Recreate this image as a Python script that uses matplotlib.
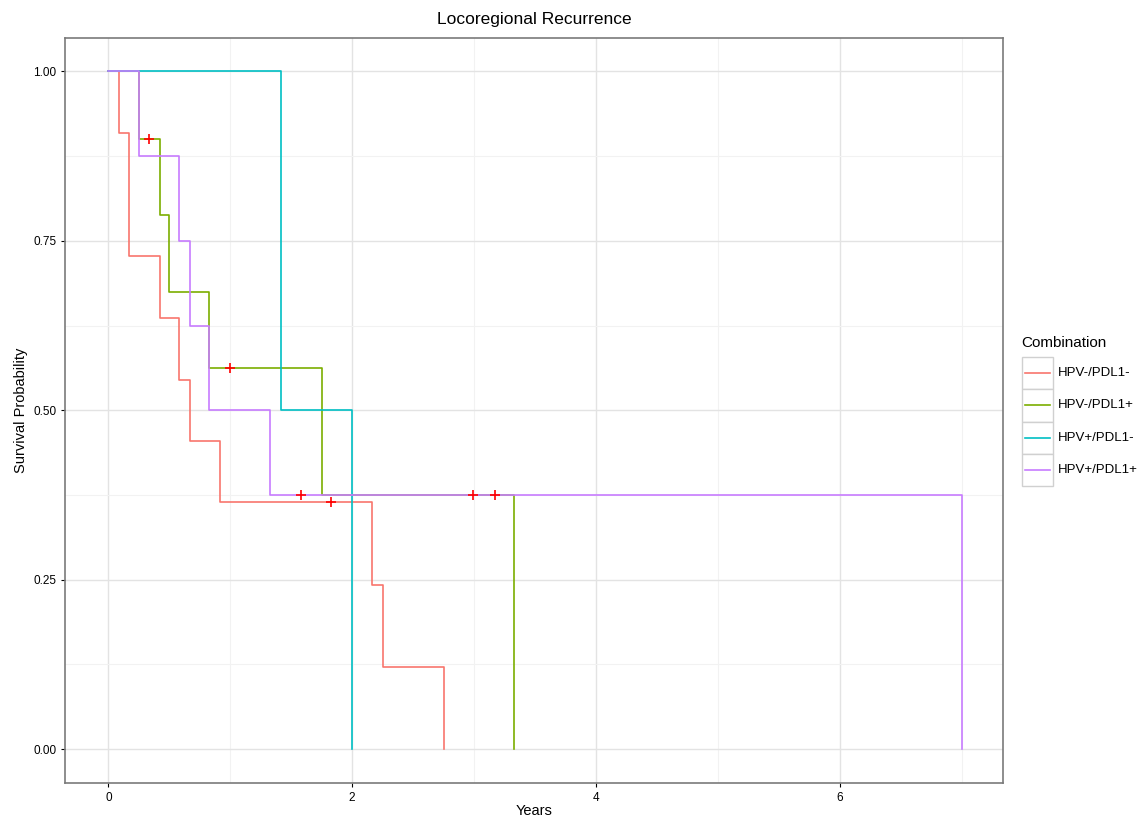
import matplotlib
matplotlib.use("Agg")
import matplotlib.pyplot as plt
from matplotlib.patches import Rectangle
from matplotlib.lines import Line2D

plt.rcParams['font.family'] = ['Liberation Sans', 'DejaVu Sans']

# Kaplan-Meier step data
groups = ["HPV-/PDL1-", "HPV-/PDL1+", "HPV+/PDL1-", "HPV+/PDL1+"]
colors = ["#F8766D", "#7CAE00", "#00BFC4", "#C77CFF"]

red_t = [0, 0.09, 0.17, 0.42, 0.58, 0.67, 0.92, 2.16, 2.25, 2.75]
red_s = [1.0, 0.909, 0.727, 0.636, 0.545, 0.455, 0.364, 0.242, 0.121, 0.0]
green_t = [0, 0.25, 0.42, 0.50, 0.83, 1.75, 3.33]
green_s = [1.0, 0.9, 0.7875, 0.675, 0.5625, 0.375, 0.0]
cyan_t = [0, 1.42, 2.0]
cyan_s = [1.0, 0.5, 0.0]
purple_t = [0, 0.25, 0.58, 0.67, 0.83, 1.33, 7.0]
purple_s = [1.0, 0.875, 0.75, 0.625, 0.5, 0.375, 0.0]

# censored observations (all drawn as red crosses)
censor_t = [0.33, 1.0, 1.58, 1.83, 2.99, 3.17]
censor_s = [0.9, 0.5625, 0.375, 0.364, 0.375, 0.375]

x_ticks = [0, 2, 4, 6]
y_ticks = [0.0, 0.25, 0.5, 0.75, 1.0]

W, H = 1139.0, 818.0
fig = plt.figure(figsize=(11.39, 8.18), dpi=100)
ax = fig.add_axes([65.3 / W, 1 - 783.3 / H, 937.7 / W, 745 / H])

series = [(red_t, red_s), (green_t, green_s), (cyan_t, cyan_s), (purple_t, purple_s)]
for (t, s), c, g in zip(series, colors, groups):
    ax.step(t, s, where="post", color=c, linewidth=1.2, label=g)

ax.plot(censor_t, censor_s, linestyle="none", marker="+", color="red",
        markersize=7.5, markeredgewidth=1.2)

ax.set_xlim(-0.353, 7.34)
ax.set_ylim(-0.0506, 1.049)
ax.set_xticks(x_ticks)
ax.set_xticklabels([str(v) for v in x_ticks])
ax.set_yticks(y_ticks)
ax.set_yticklabels(["%.2f" % v for v in y_ticks])
ax.set_xticks([1, 3, 5, 7], minor=True)
ax.set_yticks([0.125, 0.375, 0.625, 0.875], minor=True)
ax.grid(which="major", color="#E3E3E3", linewidth=1.0)
ax.grid(which="minor", color="#F2F2F2", linewidth=0.8)
ax.set_axisbelow(True)
ax.tick_params(which="major", labelsize=8.5, length=3, width=0.8, color="black")
ax.tick_params(which="minor", length=0)
for sp in ax.spines.values():
    sp.set_color("#7A7A7A")
    sp.set_linewidth(1.2)

ax.set_title("Locoregional Recurrence", fontsize=12.5, pad=10)
ax.set_xlabel("Years", fontsize=10.5, labelpad=0)
ax.set_ylabel("Survival Probability", fontsize=10.5, labelpad=4)

# legend drawn by hand in figure pixels, ggplot style
fig.text(1021 / W, 1 - 343 / H, "Combination", fontsize=11, va="center", ha="left")
box_top = 357
box_h = 32.3
for i, (g, c) in enumerate(zip(groups, colors)):
    y0 = box_top + i * box_h
    fig.add_artist(Rectangle((1022 / W, 1 - (y0 + box_h) / H), 31 / W, box_h / H,
                             facecolor="white", edgecolor="#D0D0D0", linewidth=1.0,
                             transform=fig.transFigure))
    yc = 1 - (y0 + box_h / 2) / H
    fig.add_artist(Line2D([1025 / W, 1050 / W], [yc, yc], color=c, linewidth=1.2,
                          transform=fig.transFigure))
    fig.text(1058 / W, yc, g, fontsize=9.5, va="center", ha="left")

fig.savefig("out.png", dpi=100)
